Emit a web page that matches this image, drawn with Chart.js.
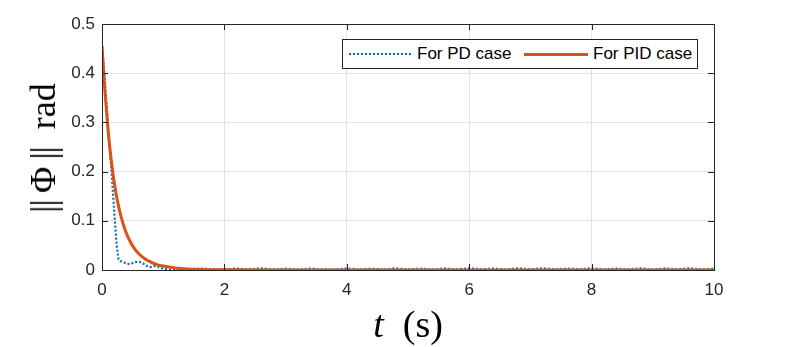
<!DOCTYPE html>
<html>
<head>
<meta charset="utf-8">
<script src="https://cdn.jsdelivr.net/npm/chart.js@4.4.0/dist/chart.umd.min.js"></script>
<style>
  body { margin: 0; background: #fff; }
  #wrap { position: relative; width: 789px; height: 347px; }
  #ytitle {
    position: absolute; left: 43px; top: 148px;
    transform: translate(-50%, -50%) rotate(-90deg);
    font-family: "Liberation Serif", "DejaVu Serif", serif; font-size: 36px;
    white-space: nowrap; color: #000;
  }
  #ytitle .bar { letter-spacing: -1px; }
  #xtitle {
    position: absolute; left: 408px; top: 324px;
    transform: translate(-50%, -50%);
    font-family: "Liberation Serif", "DejaVu Serif", serif; font-size: 38px;
    white-space: nowrap; color: #000;
  }
  #legend {
    position: absolute; left: 342px; top: 39px; width: 354px; height: 28px;
    border: 1px solid #262626; background: #fff;
    font-family: "Liberation Sans", Arial, sans-serif; font-size: 17px; color: #000;
  }
  #legend .item { position: absolute; top: 3px; line-height: 22px; }
  #legend .pd { position: absolute; left: 6px; top: 13px; width: 62px; border-top: 2px dotted #0072BD; }
  #legend .pid { position: absolute; left: 181px; top: 13px; width: 64px; border-top: 3px solid #D95319; }
</style>
</head>
<body>
<div id="wrap">
  <canvas id="myChart" width="789" height="347"></canvas>
  <div id="ytitle"><span class="bar">||</span>&#8201;Φ&#8201;<span class="bar">||</span>&nbsp; rad</div>
  <div id="xtitle"><i>t</i>&nbsp; (s)</div>
  <div id="legend">
    <div class="pd"></div><div class="item" style="left:74px">For PD case</div>
    <div class="pid"></div><div class="item" style="left:250px">For PID case</div>
  </div>
</div>
<script>
// time (s) and ||Phi|| (rad) for the PD controller
var tPD = [0, 0.03, 0.06, 0.09, 0.12, 0.15, 0.18, 0.21, 0.24, 0.27, 0.3, 0.35, 0.4, 0.45, 0.5,
  0.55, 0.6, 0.65, 0.7, 0.75, 0.8, 0.85, 0.9, 0.95, 1.0, 1.05, 1.1,
  1.2, 1.4, 1.6, 1.8, 2.0, 2.2, 2.4, 2.6, 2.8, 3.0, 3.2, 3.4, 3.6, 3.8, 4.0, 4.2, 4.4, 4.6, 4.8,
  5.0, 5.2, 5.4, 5.6, 5.8, 6.0, 6.2, 6.4, 6.6, 6.8, 7.0, 7.2, 7.4, 7.6, 7.8, 8.0, 8.2, 8.4, 8.6,
  8.8, 9.0, 9.2, 9.4, 9.6, 9.8, 10.0];
var phiPD = [0.455, 0.41, 0.36, 0.31, 0.26, 0.21, 0.155, 0.10, 0.05, 0.022, 0.018, 0.016, 0.013, 0.012, 0.014,
  0.016, 0.017, 0.015, 0.011, 0.007, 0.006, 0.008, 0.008, 0.005, 0.003, 0.002, 0.001,
  0.002, 0.001, 0.003, 0.0015, 0.001, 0.003, 0.0012, 0.0035, 0.001, 0.0028, 0.0008, 0.003, 0.0012, 0.001, 0.0032,
  0.0009, 0.0026, 0.001, 0.0034, 0.0012, 0.0028, 0.0008, 0.0031, 0.0011, 0.0036, 0.0013, 0.0029, 0.001, 0.0033,
  0.0012, 0.0037, 0.0011, 0.003, 0.0014, 0.0035, 0.001, 0.0028, 0.0012, 0.0034, 0.0009, 0.0031, 0.0013, 0.0036,
  0.001, 0.0029, 0.0032];

// time (s) and ||Phi|| (rad) for the PID controller
var tPID = [0, 0.05, 0.1, 0.15, 0.2, 0.25, 0.3, 0.35, 0.4, 0.5, 0.6, 0.7, 0.8, 0.9, 1.0, 1.2, 1.4, 1.6, 2.0, 3.0, 10.0];
var phiPID = [0.455, 0.36, 0.283, 0.224, 0.178, 0.142, 0.114, 0.092, 0.074, 0.049, 0.033, 0.023, 0.016, 0.011,
  0.008, 0.004, 0.002, 0.001, 0.0004, 0.0001, 0];

var xTicks = [0, 2, 4, 6, 8, 10];
var yTicks = [0, 0.1, 0.2, 0.3, 0.4, 0.5];

function toXY(xs, ys) {
  return xs.map(function (x, i) { return { x: x, y: ys[i] }; });
}

var axisColor = '#262626';

// MATLAB style box and inward ticks
var boxPlugin = {
  id: 'box',
  afterDraw: function (chart) {
    var ctx = chart.ctx, a = chart.chartArea;
    var xs = chart.scales.x, ys = chart.scales.y;
    ctx.save();
    ctx.strokeStyle = axisColor;
    ctx.lineWidth = 1;
    ctx.beginPath();
    xTicks.forEach(function (v) {
      var px = Math.round(xs.getPixelForValue(v)) + 0.5;
      ctx.moveTo(px, a.bottom); ctx.lineTo(px, a.bottom - 6);
      ctx.moveTo(px, a.top); ctx.lineTo(px, a.top + 6);
    });
    yTicks.forEach(function (v) {
      var py = Math.round(ys.getPixelForValue(v)) + 0.5;
      ctx.moveTo(a.left, py); ctx.lineTo(a.left + 6, py);
      ctx.moveTo(a.right, py); ctx.lineTo(a.right - 6, py);
    });
    ctx.stroke();
    ctx.strokeRect(Math.round(a.left) + 0.5, Math.round(a.top) + 0.5,
      Math.round(a.right - a.left), Math.round(a.bottom - a.top));
    ctx.restore();
  }
};

var ctx = document.getElementById('myChart');
var myChart = new Chart(ctx, {
  type: 'line',
  data: {
    datasets: [{
      label: 'For PD case',
      data: toXY(tPD, phiPD),
      borderColor: '#0072BD',
      borderWidth: 2.2,
      borderDash: [2, 2],
      pointRadius: 0,
      tension: 0,
      order: 1
    }, {
      label: 'For PID case',
      data: toXY(tPID, phiPID),
      borderColor: '#D95319',
      borderWidth: 3,
      pointRadius: 0,
      cubicInterpolationMode: 'monotone',
      order: 0
    }]
  },
  options: {
    responsive: false,
    animation: false,
    layout: { padding: { left: 0, top: 24, right: 75, bottom: 0 } },
    plugins: { legend: { display: false }, tooltip: { enabled: false } },
    scales: {
      x: {
        type: 'linear', min: 0, max: 10,
        afterFit: function (s) { s.height = 77; },
        afterBuildTicks: function (s) { s.ticks = xTicks.map(function (v) { return { value: v }; }); },
        grid: { color: '#e3e3e3', drawTicks: false },
        border: { display: false },
        ticks: {
          color: axisColor, padding: 10,
          font: { family: 'Liberation Sans, Arial, sans-serif', size: 17 }
        }
      },
      y: {
        min: 0, max: 0.5,
        afterFit: function (s) { s.width = 102; },
        afterBuildTicks: function (s) { s.ticks = yTicks.map(function (v) { return { value: v }; }); },
        grid: { color: '#e3e3e3', drawTicks: false },
        border: { display: false },
        ticks: {
          color: axisColor, padding: 7,
          font: { family: 'Liberation Sans, Arial, sans-serif', size: 17 },
          callback: function (v) { return String(Math.round(v * 10) / 10); }
        }
      }
    }
  },
  plugins: [boxPlugin]
});
</script>
</body>
</html>
